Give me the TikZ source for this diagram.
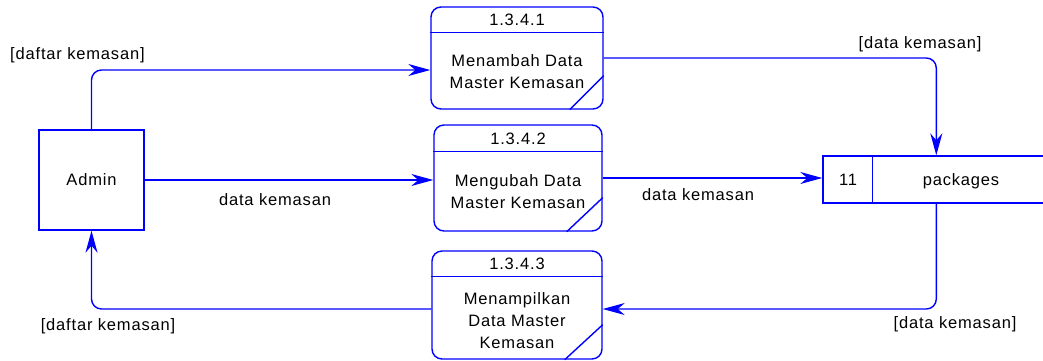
\documentclass[tikz,border=0pt]{standalone}
\usepackage{fontspec}
\setmainfont[LetterSpace=5]{Liberation Sans}
\usetikzlibrary{arrows.meta,calc}

\begin{document}
\begin{tikzpicture}[x=1pt,y=-1pt,
  every node/.style={font=\fontsize{16.5}{22}\selectfont, text=black, inner sep=0pt},
  line/.style={draw=blue, line width=1.4pt},
  flow/.style={line, rounded corners=10pt, -{Stealth[length=22pt,width=12pt,inset=7pt]}},
  proc/.style={line, rounded corners=10pt},
  box/.style={line},
  txt/.style={align=center}
]
\useasboundingbox (0,0) rectangle (1043,360);
\clip (0,0) rectangle (1043,360);

% external entity
\node[box, minimum width=105pt, minimum height=100pt] (admin) at (91.5,180) {};
\node (admintxt) at (91.5,180) {Admin};

% processes
\node[proc, minimum width=172pt, minimum height=102pt] (p1) at (517,58) {};
\draw[line] ($(p1.north west)+(0,26)$) -- ($(p1.north east)+(0,26)$);
\draw[line] ($(p1.south east)+(-34,0)$) -- ($(p1.south east)+(0,-34)$);
\node (p1id) at (517,20) {1.3.4.1};
\node[txt] (p1txt) at (517,72) {Menambah Data\\Master Kemasan};

\node[proc, minimum width=168pt, minimum height=106pt] (p2) at (518,178) {};
\draw[line] ($(p2.north west)+(0,27)$) -- ($(p2.north east)+(0,27)$);
\draw[line] ($(p2.south east)+(-36,0)$) -- ($(p2.south east)+(0,-34)$);
\node (p2id) at (518,139) {1.3.4.2};
\node[txt] (p2txt) at (518,191.5) {Mengubah Data\\Master Kemasan};

\node[proc, minimum width=170pt, minimum height=108pt] (p3) at (517,305) {};
\draw[line] ($(p3.north west)+(0,26)$) -- ($(p3.north east)+(0,26)$);
\draw[line] ($(p3.south east)+(-38,0)$) -- ($(p3.south east)+(0,-35)$);
\node (p3id) at (517,264) {1.3.4.3};
\node[txt] (p3txt) at (517,321) {Menampilkan\\Data Master\\Kemasan};

% data store
\node[box, minimum width=237pt, minimum height=47pt] (store) at (941.5,179.5) {};
\draw[line] ($(store.north west)+(50,0)$) -- ($(store.south west)+(50,0)$);
\node (storeid) at (848,180) {11};
\node (storetxt) at (961,181) {packages};

% data flows
\draw[flow] (admin.north) |- ($(p1.west)+(0,12)$);
\draw[flow] (p1.east) -| ($(store.north west)+(114,0)$);
\draw[flow] (admin.east) -- (admin.east -| p2.west);
\draw[flow] (p2.east) -- (p2.east -| store.west);
\draw[flow] ($(store.south west)+(114,0)$) |- ($(p3.east)+(0,4)$);
\draw[flow] ($(p3.west)+(0,4)$) -| (admin.south);

% flow labels
\node[anchor=west] (l1) at (10,55) {[daftar kemasan]};
\node (l2) at (920,44) {[data kemasan]};
\node (l3) at (275,200) {data kemasan};
\node (l4) at (698,195) {data kemasan};
\node (l5) at (955,324) {[data kemasan]};
\node (l6) at (108,326) {[daftar kemasan]};
\end{tikzpicture}
\end{document}
